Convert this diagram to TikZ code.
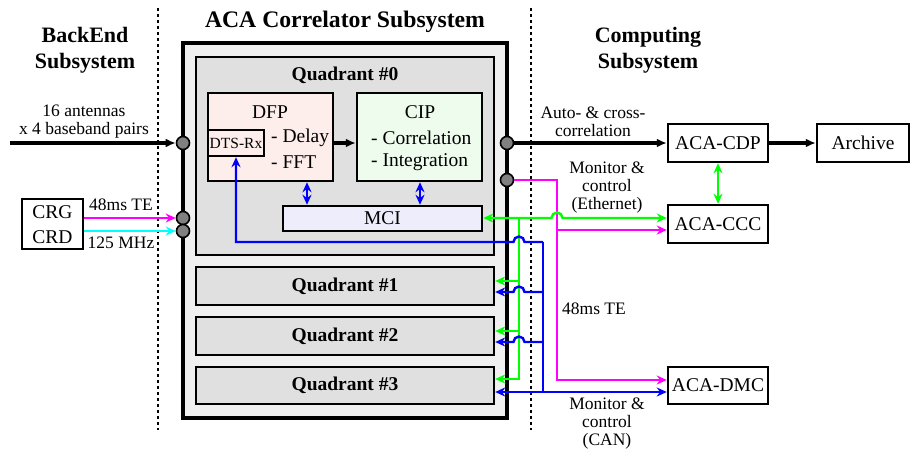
\documentclass[tikz,border=0pt]{standalone}
\usepackage{fontspec}
\setmainfont{Liberation Serif}
\usetikzlibrary{arrows.meta,calc}
\definecolor{outerfill}{RGB}{240,240,240}
\definecolor{quadfill}{RGB}{224,224,224}
\definecolor{dfpfill}{RGB}{253,237,235}
\definecolor{cipfill}{RGB}{237,252,237}
\definecolor{mcifill}{RGB}{237,237,252}
\definecolor{portfill}{RGB}{128,128,128}
\definecolor{cmag}{RGB}{255,0,255}
\definecolor{ccyan}{RGB}{0,255,255}
\definecolor{cgreen}{RGB}{0,255,0}
\definecolor{cblue}{RGB}{0,0,255}
\tikzset{
  titletext/.style={font=\bfseries\fontsize{22}{26}\selectfont, align=center, inner sep=0},
  quadtext/.style={font=\bfseries\fontsize{19.5}{22}\selectfont, inner sep=0},
  boxtext/.style={font=\fontsize{19.5}{22}\selectfont, inner sep=0},
  annot/.style={font=\fontsize{17.5}{18}\selectfont, align=center, inner sep=0},
  box/.style={draw, line width=2.5pt, fill=white, inner sep=0, minimum width=#1},
  box/.default=100pt,
  quadbox/.style={draw, line width=2.4pt, fill=quadfill, inner sep=0, minimum width=298pt},
  port/.style={circle, draw, line width=1.6pt, fill=portfill, minimum size=13pt, inner sep=0},
  thickarrow/.style={line width=3.6pt, -{Latex[length=10pt,width=9pt]}},
  carrow/.style={line width=2.4pt, -{Stealth[length=10pt,width=9pt]}},
  cdbl/.style={line width=2.4pt, {Stealth[length=10pt,width=9pt]}-{Stealth[length=10pt,width=9pt]}},
  cline/.style={line width=2.4pt},
  dotline/.style={line width=2.2pt, dash pattern=on 3pt off 3pt},
}
\begin{document}
\begin{tikzpicture}[x=1pt,y=-1pt]
\useasboundingbox (0,0) rectangle (910,453);

% dotted separators
\coordinate (dl1) at (158,8);
\coordinate (dl2) at (158,430);
\coordinate (dr1) at (531,8);
\coordinate (dr2) at (531,430);
\draw[dotline] (dl1) -- (dl2);
\draw[dotline] (dr1) -- (dr2);

% titles
\node[titletext] (tback) at (85,50) {BackEnd\\Subsystem};
\node[titletext, font=\bfseries\fontsize{23.7}{26}\selectfont] (taca) at (345,22) {ACA Correlator Subsystem};
\node[titletext] (tcomp) at (648,50) {Computing\\Subsystem};

% outer correlator box
\node[draw, line width=4.6pt, fill=outerfill, minimum width=324pt, minimum height=375pt, inner sep=0] (outer) at (345,230.5) {};

% quadrants
\node[quadbox, minimum height=198pt] (q0) at (345,156) {};
\node[quadtext] (q0t) at (345,75) {Quadrant \#0};
\node[quadbox, minimum height=38pt] (q1) at (345,286) {};
\node[quadtext] at (q1) {Quadrant \#1};
\node[quadbox, minimum height=38pt] (q2) at (345,336) {};
\node[quadtext] at (q2) {Quadrant \#2};
\node[quadbox, minimum height=37pt] (q3) at (345,385.5) {};
\node[quadtext] at (q3) {Quadrant \#3};

% DFP / CIP / MCI
\node[box=125pt, fill=dfpfill, minimum height=88pt] (dfp) at (270.5,137) {};
\node[boxtext] (dfpt) at (270,112) {DFP};
\node[boxtext, anchor=west] (dfpd) at (271,138) {- Delay};
\node[boxtext, anchor=west] (dfpf) at (271,162) {- FFT};
\node[draw, line width=2.4pt, fill=dfpfill, minimum width=56pt, minimum height=26pt, inner sep=0,
      font=\fontsize{15.5}{18}\selectfont] (dts) at (236,143) {DTS-Rx};
\node[box=125pt, fill=cipfill, minimum height=88pt] (cip) at (419.5,137) {};
\node[boxtext] (cipt) at (420,112) {CIP};
\node[boxtext, anchor=west] (cipc) at (371,138) {- Correlation};
\node[boxtext, anchor=west] (cipi) at (371,162) {- Integration};
\node[box=199pt, fill=mcifill, minimum height=25pt, font=\fontsize{19.5}{22}\selectfont] (mci) at (382.5,218.5) {MCI};

% ports
\node[port] (p1) at (183,143) {};
\node[port] (p2) at (183,218) {};
\node[port] (p3) at (183,231) {};
\node[port] (p4) at (507,143) {};
\node[port] (p5) at (507,180) {};

% left side
\node[box=61pt, minimum height=50pt] (crg) at (52.5,224) {};
\node[boxtext] (crgt) at (52.5,212) {CRG};
\node[boxtext] (crdt) at (52.5,237) {CRD};
\coordinate (inL) at (10,143);
\draw[thickarrow] (inL) -- (p1.west);
\node[annot] (lant) at (84,122) {16 antennas\\x 4 baseband pairs};
\draw[carrow, cmag] (crg.east |- p2) -- (p2.west);
\draw[carrow, ccyan] (crg.east |- p3) -- (p3.west);
\node[annot] (l48) at (121,205) {48ms TE};
\node[annot] (l125) at (121,243) {125 MHz};

% computing boxes
\node[box=100pt, minimum height=38pt, font=\fontsize{19.5}{22}\selectfont] (cdp) at (718,143) {ACA-CDP};
\node[box=92pt, minimum height=38pt, font=\fontsize{19.5}{22}\selectfont] (arch) at (863,143) {Archive};
\node[box=100pt, minimum height=38pt, font=\fontsize{19.5}{22}\selectfont] (ccc) at (718,224) {ACA-CCC};
\node[box=100pt, minimum height=37pt, font=\fontsize{19.5}{22}\selectfont] (dmc) at (718,385.5) {ACA-DMC};

% internal arrows
\coordinate (dfpo) at ($(dfp.east)+(0,6)$);
\draw[thickarrow] (dfpo) -- (cip.west |- dfpo);
\coordinate (xd) at (307,0);
\coordinate (xc) at (420,0);
\draw[cdbl, cblue] (dfp.south -| xd) -- (mci.north -| xd);
\draw[cdbl, cblue] (cip.south -| xc) -- (mci.north -| xc);

% output arrows
\draw[thickarrow] (p4.east) -- (cdp.west |- p4);
\node[annot] (lauto) at (593,122) {Auto- \& cross-\\correlation};
\draw[thickarrow] (cdp.east) -- (arch.west);
\draw[cdbl, cgreen] (cdp.south) -- (ccc.north);
\node[annot] (leth) at (607,188) {Monitor \&\\control\\(Ethernet)};
\node[annot] (lte) at (594,309) {48ms TE};
\node[annot] (lcan) at (607,424) {Monitor \&\\control\\(CAN)};

% columns and rows
\coordinate (gx) at (519,0);
\coordinate (bx) at (543,0);
\coordinate (mx) at (557,0);
\coordinate (gr) at ($(ccc.west)+(0,-6)$);
\coordinate (mr) at ($(ccc.west)+(0,6)$);
\coordinate (b0) at (0,242);
\coordinate (g1) at ($(q1.east)+(0,-5)$);
\coordinate (b1) at ($(q1.east)+(0,6)$);
\coordinate (g2) at ($(q2.east)+(0,-5)$);
\coordinate (b2) at ($(q2.east)+(0,6)$);
\coordinate (g3) at ($(q3.east)+(0,-6.5)$);
\coordinate (b3) at ($(q3.east)+(0,6.5)$);
\coordinate (m3) at ($(dmc.west)+(0,-5.5)$);

% magenta
\draw[carrow, cmag] (p5.east) -- (mx |- p5) -- (mx |- m3) -- (m3);
\draw[carrow, cmag] (mx |- mr) -- (mr);

% green
\draw[cdbl, cgreen] (mci.east |- gr) -- ($(mx |- gr)+(-5.5,0)$) arc[start angle=180, end angle=360, radius=5.5] -- (gr);
\draw[carrow, cgreen] (gx |- gr) |- (g3);
\draw[carrow, cgreen] (gx |- g1) -- (g1);
\draw[carrow, cgreen] (gx |- g2) -- (g2);

% blue
\draw[carrow, cblue] (bx |- b0) -- ($(gx |- b0)+(5.5,0)$) arc[start angle=0, end angle=-180, radius=5.5] -- (dts.south |- b0) -- (dts.south);
\draw[cline, cblue] (bx |- b0) -- (bx |- b3);
\draw[carrow, cblue] (bx |- b1) -- ($(gx |- b1)+(5.5,0)$) arc[start angle=0, end angle=-180, radius=5.5] -- (b1);
\draw[carrow, cblue] (bx |- b2) -- ($(gx |- b2)+(5.5,0)$) arc[start angle=0, end angle=-180, radius=5.5] -- (b2);
\draw[cdbl, cblue] (b3) -- (dmc.west |- b3);
\end{tikzpicture}
\end{document}
